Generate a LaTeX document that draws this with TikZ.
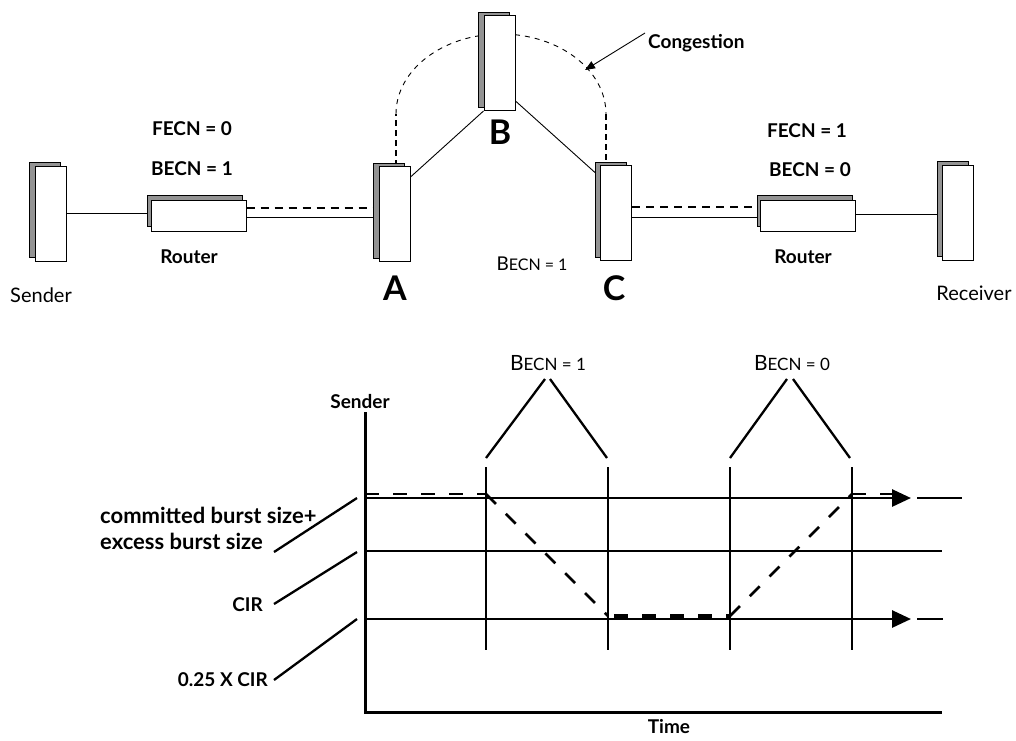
\documentclass[tikz,border=0pt]{standalone}
\usepackage{fontspec}
\setmainfont{Lato}
\usetikzlibrary{shadows,arrows.meta,backgrounds,calc}
\newcommand\becnlbl[2]{{\fontsize{#1}{#1}\selectfont B}#2}
\begin{document}
\begin{tikzpicture}[x=1pt,y=-1pt,
  dev/.style={draw=black, fill=white, line width=1pt, inner sep=0pt,
    minimum width=31pt, minimum height=95pt,
    general shadow={shadow xshift=-5.5pt, shadow yshift=3.5pt, fill=gray!85, draw=black, line width=1pt}},
  rtr/.style={draw=black, fill=white, line width=1pt, inner sep=0pt,
    minimum width=95pt, minimum height=31pt,
    general shadow={shadow xshift=-3.5pt, shadow yshift=5pt, fill=gray!85, draw=black, line width=1pt}},
  lblb/.style={font=\fontsize{19}{21}\selectfont\bfseries, inner sep=0pt},
  lblr/.style={font=\fontsize{20}{22}\selectfont, inner sep=0pt},
  lbls/.style={font=\fontsize{16}{18}\selectfont, inner sep=0pt},
  big/.style={font=\fontsize{34}{36}\selectfont\bfseries, inner sep=0pt},
  wire/.style={line width=0.9pt},
  dwire/.style={line width=1.8pt, dash pattern=on 8pt off 6pt},
  varc/.style={line width=1.5pt, dash pattern=on 6pt off 4pt},
  carc/.style={line width=0.9pt, dash pattern=on 5pt off 5pt},
  ax/.style={line width=3pt},
  hl/.style={line width=2.8pt},
  vl/.style={line width=2.6pt},
  lead/.style={line width=2.3pt},
  dsh/.style={line width=2.6pt, dash pattern=on 14pt off 14pt},
  dshb/.style={line width=4pt, dash pattern=on 14pt off 14pt},
  tip/.style={-{Triangle[length=19pt,width=17pt]}},
  tail/.style={line width=1.2pt}
]
\useasboundingbox (0,0) rectangle (1016,740);

% ---------- top network ----------
\node[dev] (snd) at (50.5,213.5) {};
\node[rtr] (rtl) at (198.5,215.5) {};
\node[dev] (a) at (394.5,214) {};
\node[dev] (b) at (499.5,63) {};
\node[dev] (c) at (616,213) {};
\node[rtr] (rtr) at (808,215.5) {};
\node[dev] (rcv) at (958,212.5) {};

\begin{scope}[on background layer]
  \draw[wire] (snd.east) -- (snd.east -| rtl.west);
  \draw[wire] ([yshift=-1.5pt]rtl.east) -- ([yshift=-1.5pt]rtl.east -| a.west);
  \draw[dwire] ([yshift=7.5pt]rtl.east) -- ([yshift=7.5pt]rtl.east -| a.west);
  \draw[wire] ([yshift=-11pt]a.north east) -- (b.south west);
  \draw[wire] ([yshift=10pt]b.south east) -- ([yshift=-12pt]c.north west);
  \draw[wire] ([yshift=-4pt]c.east) -- ([yshift=-4pt]c.east -| rtr.west);
  \draw[dwire] ([yshift=6pt]c.east) -- ([yshift=6pt]c.east -| rtr.west);
  \draw[wire] ([yshift=1.5pt]rtr.east) -- ([yshift=1.5pt]rtr.east -| rcv.west);
  \coordinate (al) at ([xshift=1.5pt]a.north);
  \coordinate (cl) at ([xshift=-10pt]c.north);
  \draw[varc] (al) -- ++(0,-52) coordinate (a1);
  \draw[carc] (a1) arc[start angle=180, end angle=360, x radius=105, y radius=80] coordinate (c1);
  \draw[varc] (c1) -- (c1 |- cl);
\end{scope}

\node[lblb] (fl) at (192,129) {FECN = 0};
\node[lblb] (bl) at (192,169) {BECN = 1};
\node[lblb] (rl) at (189,257) {Router};
\node[lblr] (sl) at (41,295) {Sender};
\node[big] (la) at (395,288) {A};
\node[big] (lb) at (500,132) {B};
\node[big] (lc) at (614,288) {C};
\node[lbls] (bm) at (532,264) {\becnlbl{19}{ECN = 1}};
\node[lblb] (fr) at (807,131) {FECN = 1};
\node[lblb] (br) at (810,170) {BECN = 0};
\node[lblb] (rr) at (803,257) {Router};
\node[lblr] (rv) at (974,293) {Receiver};
\node[lblb, anchor=west] (cg) at (648,43) {Congestion};
\coordinate (cgt) at (585,70);
\draw[wire, -{Triangle[length=10pt,width=8pt]}] ([xshift=-3pt,yshift=10pt]cg.west) -- (cgt);

% ---------- bottom chart ----------
\coordinate (o) at (365,712);
\coordinate (yt) at (365,412);
\coordinate (xe) at (942,712);
\draw[ax] (yt) -- (o) -- (xe);
\node[lblb] (ys) at (360,402) {Sender};
\node[lblb] (tm) at (669,727) {Time};

\coordinate (h1a) at (365,498);
\coordinate (h1b) at (911,498);
\coordinate (h2a) at (365,551);
\coordinate (h2b) at (942,551);
\coordinate (h3a) at (365,619);
\coordinate (h3b) at (911,619);
\draw[hl, tip] (h1a) -- (h1b);
\draw[hl] (h2a) -- (h2b);
\draw[hl, tip] (h3a) -- (h3b);
\draw[tail] (917,498) -- (962,498);
\draw[tail] (917,619) -- (943,619);

\foreach \x/\n in {486/v1,608/v2,730/v3,852/v4}{
  \coordinate (\n t) at (\x,467);
  \coordinate (\n b) at (\x,650);
  \draw[vl] (\n t) -- (\n b);
}

% brackets
\node[lbls, font=\fontsize{17}{19}\selectfont] (be1) at (548,363) {\becnlbl{21}{ECN = 1}};
\node[lbls, font=\fontsize{17}{19}\selectfont] (be0) at (792,363) {\becnlbl{21}{ECN = 0}};
\draw[lead] (486,458) -- (545,379);
\draw[lead] (550,379) -- (607,458);
\draw[lead] (730,458) -- (787,379);
\draw[lead] (793,379) -- (850,458);

% dashed rate profile
\draw[dsh] (365,494) -- (486,494);
\draw[dsh] (486,494) -- (608,616);
\draw[dshb] (614,616) -- (730,616);
\draw[dsh] (730,616) -- (852,494);
\draw[dsh] (852,494) -- (892,494);

% left labels
\draw[lead] (357,498) -- (274,552);
\draw[lead] (357,552) -- (274,604);
\draw[lead] (357,619) -- (274,680);
\node[inner sep=0pt, anchor=west, align=left, font=\fontsize{22}{26}\selectfont\bfseries] (cb) at (100,528) {committed burst size+\\excess burst size};
\node[lblb, anchor=east] (cir) at (263,605) {CIR};
\node[lblb, anchor=east] (qc) at (268,680) {0.25 X CIR};
\end{tikzpicture}
\end{document}
